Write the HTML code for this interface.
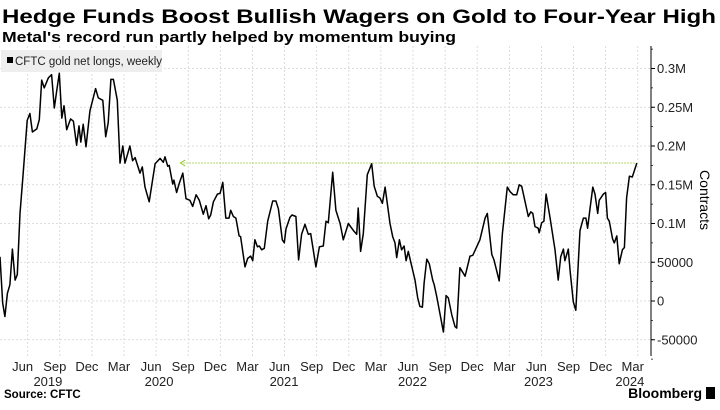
<!DOCTYPE html>
<html><head><meta charset="utf-8"><style>
body{margin:0;width:720px;height:405px;background:#fff;overflow:hidden;font-family:"Liberation Sans Narrow","Liberation Sans",sans-serif;}
svg text{font-family:"Liberation Sans Narrow","Liberation Sans",sans-serif;}
</style></head><body>
<svg id="c" width="720" height="405">
<text x="2" y="23" font-size="19" font-weight="bold" fill="#000" style="font-family:'Liberation Sans',sans-serif" textLength="714" lengthAdjust="spacingAndGlyphs">Hedge Funds Boost Bullish Wagers on Gold to Four-Year High</text>
<text x="2" y="42" font-size="14.5" font-weight="bold" fill="#000" style="font-family:'Liberation Sans',sans-serif" textLength="454" lengthAdjust="spacingAndGlyphs">Metal's record run partly helped by momentum buying</text>
<g id="grid"></g>
<g id="plot"></g>
<g id="axes"></g>
<g>
<rect x="1" y="50" width="161" height="22" fill="#eeeeee"/>
<rect x="7" y="57" width="6" height="6" fill="#000"/>
<text x="15" y="65" font-size="11.5" fill="#222">CFTC gold net longs, weekly</text>
</g>
<text x="4" y="398" font-size="11.5" font-weight="bold" fill="#000">Source: CFTC</text>
<text x="702" y="398" font-size="14" font-weight="bold" fill="#000" text-anchor="end">Bloomberg</text>
<rect x="706" y="387" width="9" height="12" fill="#000"/>
<text transform="translate(700,200) rotate(90)" font-size="14" fill="#000" text-anchor="middle">Contracts</text>
</svg>
<script>
const weeks=[0,1.1,2,3,4,5,6.1,7,8.1,9.4,11,12.1,13.1,14.9,15.9,16.9,17.9,19.6,20.9,22,23,24,25,25.9,27,28.6,29.7,31,32,32.7,33.7,34.8,36.4,38.7,39.8,41.6,42.8,43.8,44.9,45.9,47.5,48.6,49.7,50.6,52.6,53.7,54.7,56.7,57.6,58.7,60.4,62.8,64.8,66.1,66.8,67.9,68.5,69.9,70.4,71.5,72.6,74,75.3,76.9,78,79.4,80.7,82.3,83.4,84.5,85.3,86.4,88,89.1,90.2,91.4,92.7,93.4,94.5,95.5,96.8,97.4,99.2,100.3,101.5,102.3,103.2,104.2,105,105.9,107,108.4,110.4,111.7,112.7,114.3,115.1,115.8,117.4,118.2,119.8,120.9,122.1,123.5,124.8,125.8,127.9,129.3,130.9,132,132.9,134.7,136,137.7,139,141,143.3,144.4,145,146,147.1,148.7,150.5,151.5,152.8,153.8,154.8,155.9,157.9,159,159.9,160.6,161.7,162.6,163.6,164.4,165.3,166.7,168,169.1,170,171,171.7,172.8,173.8,175.2,175.8,176.8,178.1,179.5,180.6,181.5,182.9,184.2,184.9,186.2,188.3,190.3,191.4,193,194.3,196.4,197.3,199.1,200,202.1,203.4,205.4,206.5,207.8,209.2,210.2,211.2,212.6,213.9,214.9,215.7,216.6,217.9,218.3,219.3,220.2,221.1,222.7,224.7,226,227,228.1,228.7,230.1,230.8,232.1,233.1,234.8,236.2,237.2,237.9,238.9,240,240.9,242,242.6,244.3,245.2,245.9,246.7,248,248.7,249.7,250.7,252,252.8,253.7,254.8,256,257.8];
const netLongsK=[57,-3,-20,10,21,67,27,34,113,165,233,242,218,222,234,285,275,288,292,249,272,294,236,252,221,235,232,201,226,205,228,199,245,274,262,259,212,230,286,286,259,178,200,178,200,181,185,165,173,147,128,177,184,179,186,174,175,151,156,140,152,165,132,130,122,137,130,112,123,106,111,128,138,139,153,107,107,117,109,107,84,83,44,55,58,52,79,70,71,66,68,103,129,129,119,79,75,93,108,111,109,53,86,99,86,87,44,70,71,103,101,166,117,100,79,100,90,86,120,64,87,163,177,148,135,133,126,147,100,83,75,56,79,66,71,52,64,45,27,4,-7,-8,23,54,48,27,21,6,-16,-40,7,4,-18,-33,-35,43,32,58,59,70,79,107,113,60,53,26,87,147,141,137,137,150,148,128,109,115,113,96,94,88,101,103,138,107,66,27,57,67,52,67,39,-1,-12,91,107,107,94,120,147,138,113,130,138,140,107,103,80,75,84,48,66,69,133,161,160,178];
const yTicks=[-50000,0,50000,100000,150000,200000,250000,300000];
const yTickLabels=["-50000","0","50000","0.1M","0.15M","0.2M","0.25M","0.3M"];
const monthLabels=["Jun","Sep","Dec","Mar","Jun","Sep","Dec","Mar","Jun","Sep","Dec","Mar","Jun","Sep","Dec","Mar","Jun","Sep","Dec","Mar"];
const yearLabels=["2019","2020","2021","2022","2023","2024"];
const yearWeeks=[19.4,64.4,115,167,218,255];
const recordK=178;
const NS="http://www.w3.org/2000/svg";
const X=w=>w*2.47;
const Y=v=>301-v/50000*38.75;
function mk(t,a,p){const e=document.createElementNS(NS,t);for(const k in a)e.setAttribute(k,a[k]);p.appendChild(e);return e;}
const grid=document.getElementById('grid'),plot=document.getElementById('plot'),axes=document.getElementById('axes');
yTicks.forEach((v,i)=>{
 const l=mk('line',{x1:0,x2:651,y1:Y(v),y2:Y(v),stroke:'#d4d4d4','stroke-dasharray':'2,2','stroke-width':0.8},grid);
 
 
 mk('line',{x1:651,x2:655,y1:Y(v),y2:Y(v),stroke:'#000'},axes);
 const t=mk('text',{x:657,y:Y(v)+4.5,'font-size':13,fill:'#222'},axes);
 t.textContent=yTickLabels[i];
 
 
});
for(let v=-75000;v<=325000;v+=25000){mk('line',{x1:651,x2:653,y1:Y(v),y2:Y(v),stroke:'#000','stroke-width':0.7},axes);}
const al=mk('line',{x1:651,x2:651,y1:46,y2:356,stroke:'#000','stroke-width':1},axes);


monthLabels.forEach((m,i)=>{
 const w=11.2+13*i;
 const g=mk('line',{x1:X(w),x2:X(w),y1:46,y2:356,stroke:'#d4d4d4','stroke-dasharray':'2,2','stroke-width':0.8},grid);
 
 
 const t=mk('text',{x:X(w)-5,y:371,'font-size':13,fill:'#222','text-anchor':'middle'},axes);
 t.textContent=m;
 
 
});
yearLabels.forEach((y,i)=>{
 const t=mk('text',{x:X(yearWeeks[i]),y:386,'font-size':13,fill:'#222','text-anchor':'middle'},axes);
 t.textContent=y;
 
 
});
const rl=mk('line',{x1:X(73),x2:X(weeks[weeks.length-1]),y1:Y(recordK*1000),y2:Y(recordK*1000),stroke:'#9acd32','stroke-dasharray':'1.5,1.5','stroke-width':1},plot);


const ar=mk('path',{d:`M${X(73)+5},${Y(recordK*1000)-3} L${X(73)},${Y(recordK*1000)} L${X(73)+5},${Y(recordK*1000)+3}`,fill:'none',stroke:'#9acd32','stroke-width':1},plot);


const d=weeks.map((w,i)=>(i?'L':'M')+X(w).toFixed(1)+','+Y(netLongsK[i]*1000).toFixed(1)).join(' ');
const ln=mk('path',{d:d,fill:'none',stroke:'#000','stroke-width':1.5,'stroke-linejoin':'round'},plot);


</script>
</body></html>
